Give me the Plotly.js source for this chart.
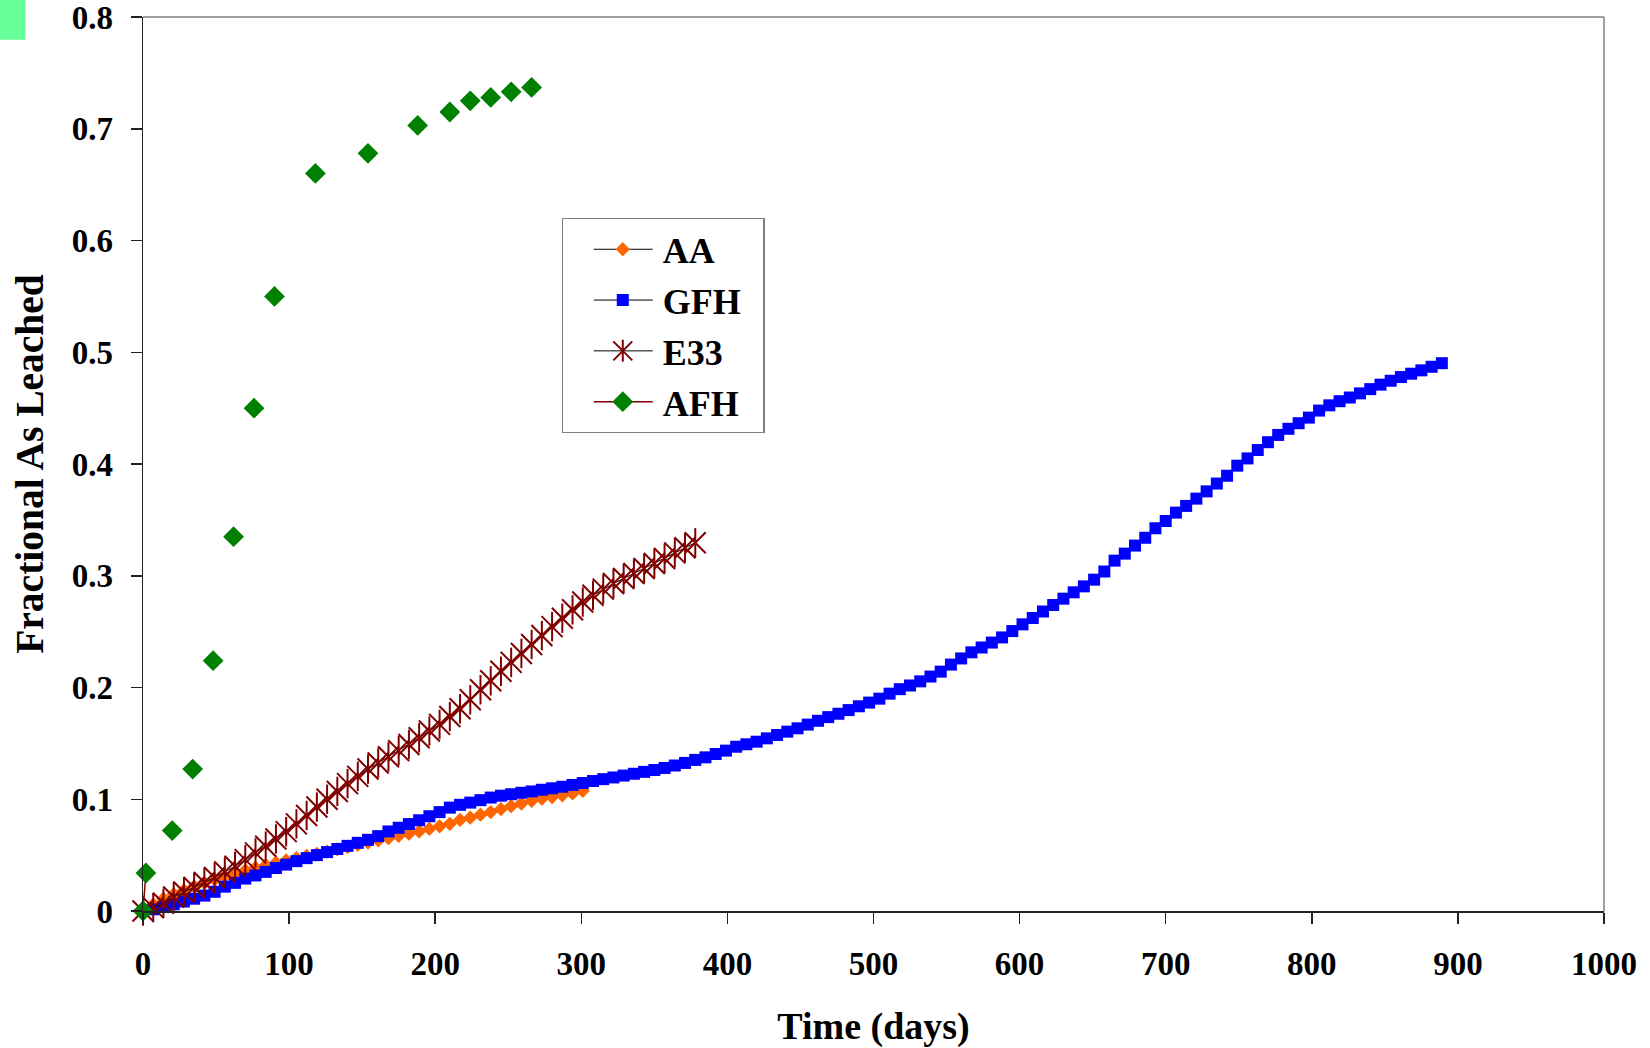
<!DOCTYPE html>
<html>
<head>
<meta charset="utf-8">
<script src="https://cdn.plot.ly/plotly-3.0.1.min.js"></script>
<style>
  html, body { margin: 0; padding: 0; background: #ffffff; }
  #chart { width: 1650px; height: 1048px; }
</style>
</head>
<body>
<div id="chart"></div>
<script>
// ---------------- DATA ----------------
const seriesNames = ["AA", "GFH", "E33", "AFH"];

const aaDays = [0, 7, 14, 21, 28, 35, 42, 49, 56, 63, 70, 77, 84, 91, 98, 105, 112, 119, 126, 133,
  140, 147, 154, 161, 168, 175, 182, 189, 196, 203, 210, 217, 224, 231, 238, 245, 252, 259, 266,
  273, 280, 287, 294, 301];
const aaFrac = [0, 0.006, 0.011, 0.015, 0.0185, 0.022, 0.0252, 0.0282, 0.031, 0.0338, 0.0364,
  0.0388, 0.041, 0.0432, 0.0452, 0.0472, 0.0492, 0.0512, 0.0532, 0.0552, 0.0572, 0.0593, 0.0612,
  0.0632, 0.0652, 0.0672, 0.0692, 0.0712, 0.0735, 0.0758, 0.078, 0.0815, 0.0835, 0.0862, 0.0885,
  0.0912, 0.0938, 0.0962, 0.0985, 0.1005, 0.102, 0.1035, 0.1052, 0.1075];

const gfhDays = [0, 7, 14, 21, 28, 35, 42, 49, 56, 63, 70, 77, 84, 91, 98, 105, 112, 119, 126, 133,
  140, 147, 154, 161, 168, 175, 182, 189, 196, 203, 210, 217, 224, 231, 238, 245, 252, 259, 266,
  273, 280, 287, 294, 301, 308, 315, 322, 329, 336, 343, 350, 357, 364, 371, 378, 385, 392, 399,
  406, 413, 420, 427, 434, 441, 448, 455, 462, 469, 476, 483, 490, 497, 504, 511, 518, 525, 532,
  539, 546, 553, 560, 567, 574, 581, 588, 595, 602, 609, 616, 623, 630, 637, 644, 651, 658, 665,
  672, 679, 686, 693, 700, 707, 714, 721, 728, 735, 742, 749, 756, 763, 770, 777, 784, 791, 798,
  805, 812, 819, 826, 833, 840, 847, 854, 861, 868, 875, 882, 889];
const gfhFrac = [0, 0.0015, 0.0035, 0.006, 0.0085, 0.011, 0.0138, 0.0172, 0.0218, 0.0252, 0.029,
  0.0318, 0.035, 0.0385, 0.0415, 0.0446, 0.0473, 0.05, 0.0527, 0.0555, 0.0583, 0.061, 0.0637,
  0.067, 0.0712, 0.0745, 0.0778, 0.0812, 0.0848, 0.0885, 0.0925, 0.095, 0.097, 0.0992, 0.1015,
  0.1032, 0.1045, 0.1058, 0.107, 0.1085, 0.1098, 0.1112, 0.1128, 0.1145, 0.1163, 0.118, 0.1195,
  0.1212, 0.1228, 0.1245, 0.1262, 0.128, 0.1302, 0.1325, 0.1352, 0.1375, 0.1405, 0.1435, 0.147,
  0.1492, 0.1515, 0.1545, 0.1575, 0.1605, 0.1635, 0.1668, 0.1702, 0.1735, 0.1765, 0.1798, 0.1832,
  0.1865, 0.19, 0.1945, 0.1985, 0.2018, 0.2055, 0.2098, 0.2142, 0.2205, 0.226, 0.2315, 0.2358,
  0.2402, 0.2448, 0.2505, 0.2565, 0.2622, 0.268, 0.2738, 0.2795, 0.2852, 0.2905, 0.2965, 0.3038,
  0.3135, 0.3198, 0.327, 0.334, 0.3425, 0.349, 0.3565, 0.3625, 0.369, 0.3755, 0.3825, 0.3895,
  0.3985, 0.405, 0.4125, 0.4195, 0.426, 0.4315, 0.4365, 0.4415, 0.4478, 0.4525, 0.4562, 0.4595,
  0.4632, 0.467, 0.471, 0.4745, 0.4778, 0.4808, 0.4838, 0.487, 0.4902];

const e33Days = [0, 7, 14, 21, 28, 35, 42, 49, 56, 63, 70, 77, 84, 91, 98, 105, 112, 119, 126, 133,
  140, 147, 154, 161, 168, 175, 182, 189, 196, 203, 210, 217, 224, 231, 238, 245, 252, 259, 266,
  273, 280, 287, 294, 301, 308, 315, 322, 329, 336, 343, 350, 357, 364, 371, 378];
const e33Frac = [0, 0.003, 0.007, 0.0125, 0.017, 0.021, 0.0255, 0.03, 0.035, 0.04, 0.046, 0.052,
  0.058, 0.0645, 0.071, 0.078, 0.0855, 0.093, 0.1, 0.107, 0.114, 0.1205, 0.127, 0.1325, 0.138,
  0.1435, 0.149, 0.155, 0.161, 0.167, 0.174, 0.181, 0.189, 0.198, 0.206, 0.2145, 0.2225, 0.2305,
  0.2385, 0.2465, 0.2545, 0.262, 0.2695, 0.2765, 0.2825, 0.288, 0.293, 0.2975, 0.302, 0.3065,
  0.311, 0.3155, 0.3205, 0.325, 0.3295];

const afhDays = [0, 2, 20, 34, 48, 62, 76, 90, 118, 154, 188, 210, 224, 238, 252, 266];
const afhFrac = [0, 0.034, 0.072, 0.127, 0.224, 0.335, 0.45, 0.55, 0.66, 0.678, 0.703, 0.715,
  0.725, 0.728, 0.733, 0.737];

const xTickVals = [0, 100, 200, 300, 400, 500, 600, 700, 800, 900, 1000];
const xTickText = ["0", "100", "200", "300", "400", "500", "600", "700", "800", "900", "1000"];
const yTickVals = [0, 0.1, 0.2, 0.3, 0.4, 0.5, 0.6, 0.7, 0.8];
const yTickText = ["0", "0.1", "0.2", "0.3", "0.4", "0.5", "0.6", "0.7", "0.8"];

const xTitle = "Time (days)";
const yTitle = "Fractional As Leached";

// ---------------- BUILD ----------------
const FONT = '"Liberation Serif", "Times New Roman", Times, serif';

// AFH: Excel only joins the first two points (blank cells break the line afterwards)
const afhX = [], afhY = [];
for (let i = 0; i < afhDays.length; i++) {
  afhX.push(afhDays[i]); afhY.push(afhFrac[i]);
  if (i >= 1 && i < afhDays.length - 1) { afhX.push(null); afhY.push(null); }
}

const E33_COLOR = '#800000';
const traces = [
  {
    name: seriesNames[0], x: aaDays, y: aaFrac, type: 'scatter', mode: 'lines+markers',
    line: { color: '#000000', width: 1 },
    marker: { symbol: 'diamond', size: 11, color: '#FF6600', line: { width: 0 } },
    cliponaxis: false, legendgroup: 'g1'
  },
  {
    name: seriesNames[1], x: gfhDays, y: gfhFrac, type: 'scatter', mode: 'lines+markers',
    line: { color: '#000000', width: 1 },
    marker: { symbol: 'square', size: 12, color: '#0000FF', line: { width: 0 } },
    cliponaxis: false, legendgroup: 'g2'
  },
  {
    name: seriesNames[2], x: e33Days, y: e33Frac, type: 'scatter', mode: 'lines+markers',
    line: { color: '#000000', width: 1 },
    marker: { symbol: 'x-thin-open', size: 21, color: E33_COLOR, line: { width: 2, color: E33_COLOR } },
    cliponaxis: false, legendgroup: 'g3'
  },
  {
    name: seriesNames[2] + '-bar', x: e33Days, y: e33Frac, type: 'scatter', mode: 'markers',
    marker: { symbol: 'line-ns-open', size: 21, color: E33_COLOR, line: { width: 2, color: E33_COLOR } },
    cliponaxis: false, showlegend: false, legendgroup: 'g3'
  },
  {
    name: seriesNames[3], x: afhX, y: afhY, type: 'scatter', mode: 'lines+markers',
    connectgaps: false,
    line: { color: '#800000', width: 1.5 },
    marker: { symbol: 'diamond', size: 16, color: '#008000', line: { width: 0 } },
    cliponaxis: false, legendgroup: 'g4'
  }
];

const axisFont = { family: FONT, size: 33, color: '#000000', weight: 'bold' };
const titleFont = { family: FONT, size: 38, color: '#000000', weight: 'bold' };

const layout = {
  width: 1650, height: 1048,
  paper_bgcolor: '#ffffff', plot_bgcolor: '#ffffff',
  margin: { l: 143, r: 46, t: 17, b: 137, pad: 0 },
  showlegend: true,
  font: { family: FONT, color: '#000000' },
  xaxis: {
    range: [0, 1000], tickmode: 'array', tickvals: xTickVals, ticktext: xTickText,
    ticks: 'outside', ticklen: 11, tickwidth: 1.5, tickcolor: '#222222',
    showline: true, linecolor: '#222222', linewidth: 1.5, showgrid: false, zeroline: false,
    tickfont: axisFont, ticklabelstandoff: 12, ticklabeloverflow: 'allow',
    title: { text: xTitle, font: titleFont, standoff: 31 }
  },
  yaxis: {
    range: [0, 0.8], tickmode: 'array', tickvals: yTickVals, ticktext: yTickText,
    ticks: 'outside', ticklen: 11, tickwidth: 1.5, tickcolor: '#222222',
    showline: true, linecolor: '#222222', linewidth: 1.5, showgrid: false, zeroline: false,
    tickfont: axisFont, ticklabelstandoff: 11, ticklabeloverflow: 'allow',
    title: { text: yTitle, font: { family: FONT, size: 39.5, color: '#000000', weight: 'bold' }, standoff: 16 }
  },
  legend: {
    x: 0.2865, y: 0.775, xanchor: 'left', yanchor: 'top',
    bgcolor: '#ffffff', bordercolor: '#808080', borderwidth: 1.2,
    font: { family: FONT, size: 36, color: '#000000', weight: 'bold' },
    traceorder: 'grouped', tracegroupgap: 1, itemwidth: 90
  },
  shapes: [
    { type: 'line', xref: 'paper', yref: 'paper', x0: 0, x1: 1, y0: 1, y1: 1,
      line: { color: '#808080', width: 1.5 } },
    { type: 'line', xref: 'paper', yref: 'paper', x0: 1, x1: 1, y0: 0, y1: 1,
      line: { color: '#808080', width: 1.5 } },
    { type: 'rect', xref: 'paper', yref: 'paper', x0: -0.0982, x1: -0.0804, y0: 0.9746, y1: 1.0194,
      fillcolor: '#66FF99', line: { width: 0 }, layer: 'above' }
  ]
};

const gd = document.getElementById('chart');
Plotly.newPlot(gd, traces, layout, { displayModeBar: false, staticPlot: true }).then(function () {
  // Excel-style legend keys: longer line sample with the marker in its middle
  gd.querySelectorAll('.legend .traces').forEach(function (tr) {
    tr.querySelectorAll('.legendlines path').forEach(function (p) { p.setAttribute('d', 'M31,0h59'); });
    tr.querySelectorAll('.legendpoints path').forEach(function (p) {
      p.setAttribute('transform', 'translate(60,0)');
    });
    const txt = tr.querySelector('text.legendtext');
    if (txt && txt.textContent === seriesNames[2]) {
      tr.querySelectorAll('.legendpoints path').forEach(function (p) {
        p.setAttribute('d', 'M9.5,9.5L-9.5,-9.5M9.5,-9.5L-9.5,9.5M0,11V-11');
      });
    }
  });
  // Excel legend box is a little wider than its content
  const bg = gd.querySelector('.legend rect.bg');
  if (bg) {
    const w = parseFloat(bg.getAttribute('width'));
    if (!isNaN(w)) bg.setAttribute('width', String(w + 17));
  }
});
</script>
</body>
</html>
